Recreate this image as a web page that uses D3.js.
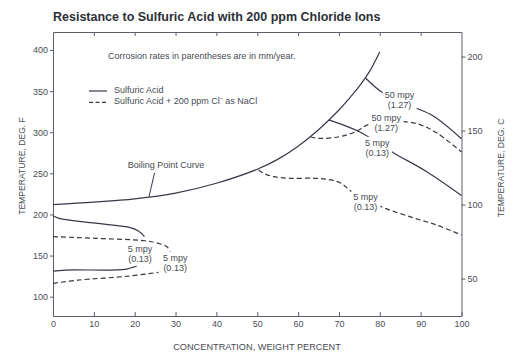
<!DOCTYPE html>
<html>
<head>
<meta charset="utf-8">
<script src="https://cdn.jsdelivr.net/npm/d3@7"></script>
<style>
  body { margin: 0; background: #fff; }
  svg text { font-family: "Liberation Sans", Arial, sans-serif; fill: #474b52; }
</style>
</head>
<body>
<svg id="chart" width="516" height="354"></svg>
<script>
// Boiling point curve (weight percent, deg F)
var boilX = [0, 10, 20, 30, 40, 50, 55, 60, 65, 70, 72.5, 75, 77.5, 80];
var boilF = [212, 215, 219, 226, 238, 255, 267, 283, 303, 327, 341, 356, 374, 398];

// Sulfuric acid iso-corrosion lines (solid)
var solid50X = [76.5, 81, 88, 93, 100];
var solid50F = [366, 347, 331, 320, 292];
var solid5X = [67.5, 75, 83.5, 91.5, 100];
var solid5F = [315, 300.5, 274.5, 252, 223];
var solid5LowUpX = [0, 1.5, 10.3, 18.5, 20.9, 22.4];
var solid5LowUpF = [198.5, 195.3, 189.4, 184.5, 180, 173];
var solid5LowDnX = [0, 2.9, 14.4, 18.1, 19.7, 20.5];
var solid5LowDnF = [131, 132.4, 132.4, 133.6, 136, 137];

// Sulfuric acid + 200 ppm chloride (dashed)
var dash50X = [63, 65, 70, 74, 77, 81, 86, 90, 94, 100];
var dash50F = [294.5, 292.5, 294.5, 300.5, 309, 314, 313, 309, 299, 276];
var dash5X = [50.3, 52, 54, 58, 64, 68, 70.5, 73, 77, 80.5, 87.5, 94, 100];
var dash5F = [254, 249, 246, 244, 244, 242, 238, 228, 217, 209, 197, 187, 175];
var dash5LowUpX = [0, 10.3, 22.5, 25.8, 27.9, 28.7];
var dash5LowUpF = [173, 171, 168, 164.8, 160.7, 154.6];
var dash5LowDnX = [0, 6.2, 18.5, 25.8];
var dash5LowDnF = [116.2, 120.2, 125, 129.6];

// Tick values
var xTicks = [0, 10, 20, 30, 40, 50, 60, 70, 80, 90, 100];
var fTicks = [100, 150, 200, 250, 300, 350, 400];
var cTicks = [50, 100, 150, 200];

// Rate labels: [weight %, deg F, line 1, line 2]
var rateLabels = [
  [84.8, 339, '50 mpy', '(1.27)'],
  [81.6, 311, '50 mpy', '(1.27)'],
  [79.4, 281, '5 mpy', '(0.13)'],
  [76.5, 215, '5 mpy', '(0.13)'],
  [21.3, 152.5, '5 mpy', '(0.13)'],
  [29.9, 141.5, '5 mpy', '(0.13)']
];

var svg = d3.select('#chart');
var lineColor = '#353a46';
var axisColor = '#5a5e66';

var x = d3.scaleLinear().domain([0, 100]).range([53, 461.5]);
var y = d3.scaleLinear().domain([76.5, 421.9]).range([316, 32]);

// Title
svg.append('text')
  .attr('x', 53).attr('y', 21)
  .style('font-size', '12.5px').style('font-weight', 'bold').style('fill', '#2d3038')
  .text('Resistance to Sulfuric Acid with 200 ppm Chloride Ions');

// Axes
function styleAxis(g) {
  g.selectAll('path, line').attr('stroke', axisColor);
  g.selectAll('text').style('font-size', '9px').style('fill', '#4a4e56').attr('font-family', null);
}

svg.append('g')
  .attr('transform', 'translate(0,316)')
  .call(d3.axisBottom(x).tickValues(xTicks).tickSizeInner(-4).tickSizeOuter(0).tickPadding(5))
  .call(styleAxis);

svg.append('g')
  .attr('transform', 'translate(0,32)')
  .call(d3.axisTop(x).tickValues(xTicks.slice(1, -1)).tickSizeInner(-4).tickSizeOuter(0).tickFormat(''))
  .call(styleAxis);

svg.append('g')
  .attr('transform', 'translate(53,0)')
  .call(d3.axisLeft(y).tickValues(fTicks).tickSize(3).tickSizeOuter(0).tickPadding(2))
  .call(styleAxis);

// Celsius scale on the right, same frame
var yRight = d3.scaleLinear().domain([(76.5 - 32) * 5 / 9, (421.9 - 32) * 5 / 9]).range([316, 32]);
svg.append('g')
  .attr('transform', 'translate(461.5,0)')
  .call(d3.axisRight(yRight).tickValues(cTicks).tickSize(4).tickSizeOuter(0).tickPadding(2))
  .call(styleAxis);

// Axis titles
svg.append('text')
  .attr('x', 257).attr('y', 350)
  .attr('text-anchor', 'middle').style('font-size', '9.2px')
  .text('CONCENTRATION, WEIGHT PERCENT');

svg.append('text')
  .attr('transform', 'translate(25,166) rotate(-90)')
  .attr('text-anchor', 'middle').style('font-size', '8.6px')
  .text('TEMPERATURE, DEG. F');

svg.append('text')
  .attr('transform', 'translate(504,168) rotate(-90)')
  .attr('text-anchor', 'middle').style('font-size', '8.6px')
  .text('TEMPERATURE, DEG. C');

// Curves
var line = d3.line()
  .x(function (d) { return x(d[0]); })
  .y(function (d) { return y(d[1]); })
  .curve(d3.curveCatmullRom.alpha(0.5));

function drawCurve(xs, fs, dashed) {
  var pts = xs.map(function (v, i) { return [v, fs[i]]; });
  svg.append('path')
    .attr('d', line(pts))
    .attr('fill', 'none')
    .attr('stroke', lineColor)
    .attr('stroke-width', 1.2)
    .attr('stroke-dasharray', dashed ? '5,3' : null);
}

drawCurve(boilX, boilF, false);
drawCurve(solid50X, solid50F, false);
drawCurve(solid5X, solid5F, false);
drawCurve(solid5LowUpX, solid5LowUpF, false);
drawCurve(solid5LowDnX, solid5LowDnF, false);
drawCurve(dash50X, dash50F, true);
drawCurve(dash5X, dash5F, true);
drawCurve(dash5LowUpX, dash5LowUpF, true);
drawCurve(dash5LowDnX, dash5LowDnF, true);

// Rate labels with white backing to break the lines
rateLabels.forEach(function (d) {
  var g = svg.append('g');
  var cx = x(d[0]), cy = y(d[1]);
  [d[2], d[3]].forEach(function (t, i) {
    g.append('text')
      .attr('x', cx).attr('y', cy + (i - 0.5) * 10 + 3)
      .attr('text-anchor', 'middle').style('font-size', '9px')
      .text(t);
  });
  var b = g.node().getBBox();
  g.insert('rect', 'text')
    .attr('x', b.x - 2).attr('y', b.y - 1)
    .attr('width', b.width + 4).attr('height', b.height + 2)
    .attr('fill', '#fff');
});

// Boiling point label and pointer
svg.append('text')
  .attr('x', 166).attr('y', 168)
  .attr('text-anchor', 'middle').style('font-size', '9px')
  .text('Boiling Point Curve');
svg.append('line')
  .attr('x1', 154.5).attr('y1', 173)
  .attr('x2', x(23.5)).attr('y2', y(221.5))
  .attr('stroke', lineColor).attr('stroke-width', 1);

// Note
svg.append('text')
  .attr('x', 108).attr('y', 58.5).style('font-size', '9px')
  .text('Corrosion rates in parentheses are in mm/year.');

// Legend
svg.append('line')
  .attr('x1', 89).attr('x2', 107).attr('y1', 91).attr('y2', 91)
  .attr('stroke', lineColor).attr('stroke-width', 1.2);
svg.append('text')
  .attr('x', 114).attr('y', 92.5).style('font-size', '9px')
  .text('Sulfuric Acid');
svg.append('line')
  .attr('x1', 89).attr('x2', 107).attr('y1', 102.3).attr('y2', 102.3)
  .attr('stroke', lineColor).attr('stroke-width', 1.2)
  .attr('stroke-dasharray', '4,2.5');
svg.append('text')
  .attr('x', 114).attr('y', 104).style('font-size', '9px')
  .text('Sulfuric Acid + 200 ppm Cl\u207B as NaCl');
</script>
</body>
</html>
